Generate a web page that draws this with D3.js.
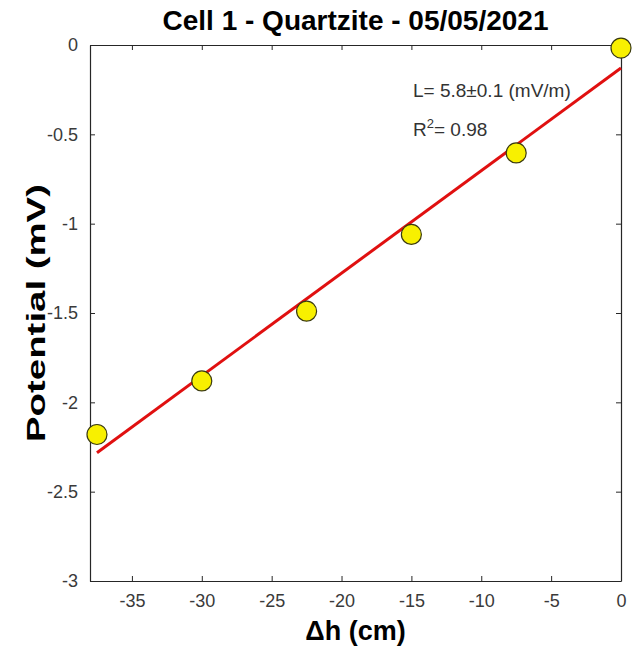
<!DOCTYPE html>
<html>
<head>
<meta charset="utf-8">
<script src="https://cdn.jsdelivr.net/npm/d3@7"></script>
<style>
  body { margin: 0; background: #fff; }
  svg { font-family: Arial, "Liberation Sans", Helvetica, sans-serif; }
  .tick text { font-size: 18px; fill: #3a3a3a; }
</style>
</head>
<body>
<svg width="640" height="647"></svg>
<script>
// Data
const dh = [-37.5, -30, -22.5, -15, -7.5, 0];          // cm
const potential = [-2.18, -1.88, -1.49, -1.06, -0.604, -0.017]; // mV
// fitted line end points
const fitX = [-37.5, 0];
const fitY = [-2.282, -0.129];
const xTicks = [-35, -30, -25, -20, -15, -10, -5, 0];
const yTicks = [0, -0.5, -1, -1.5, -2, -2.5, -3];

const svg = d3.select("svg");
const margin = { top: 45, right: 19, bottom: 66, left: 90 };
const width = 640 - margin.left - margin.right;
const height = 647 - margin.top - margin.bottom;

const g = svg.append("g")
    .attr("transform", `translate(${margin.left},${margin.top})`);

const x = d3.scaleLinear().domain([-38, 0]).range([0, width]);
const y = d3.scaleLinear().domain([-3, 0]).range([height, 0]);

// Axes (ticks inside, on all four sides like matlab box)
g.append("g")
    .attr("transform", `translate(0,${height})`)
    .call(d3.axisBottom(x).tickValues(xTicks).tickSizeInner(-5).tickSizeOuter(0).tickPadding(13).tickFormat(d => d));
g.append("g")
    .call(d3.axisLeft(y).tickValues(yTicks).tickSizeInner(-5).tickSizeOuter(0).tickPadding(12).tickFormat(d => d));
g.append("g")
    .call(d3.axisTop(x).tickValues(xTicks).tickSizeInner(-5).tickSizeOuter(0).tickFormat(""));
g.append("g")
    .attr("transform", `translate(${width},0)`)
    .call(d3.axisRight(y).tickValues(yTicks).tickSizeInner(-5).tickSizeOuter(0).tickFormat(""));

g.selectAll(".domain").attr("stroke", "#262626").attr("stroke-width", 1.2);
g.selectAll(".tick line").attr("stroke", "#262626");

// Fit line
const line = d3.line().x(d => x(d[0])).y(d => y(d[1]));
g.append("path")
    .datum(d3.zip(fitX, fitY))
    .attr("d", line)
    .attr("fill", "none")
    .attr("stroke", "#e01010")
    .attr("stroke-width", 3);

// Points
g.selectAll("circle")
    .data(d3.zip(dh, potential))
    .enter()
    .append("circle")
    .attr("cx", d => x(d[0]))
    .attr("cy", d => y(d[1]))
    .attr("r", 10)
    .attr("fill", "#f8f000")
    .attr("stroke", "#3a3a10")
    .attr("stroke-width", 1.2);

// Annotations
g.append("text")
    .attr("x", 323).attr("y", 52)
    .attr("font-size", 19).attr("fill", "#333")
    .text("L= 5.8\u00B10.1 (mV/m)");
const r2 = g.append("text")
    .attr("x", 323).attr("y", 91)
    .attr("font-size", 19).attr("fill", "#333");
r2.append("tspan").text("R");
r2.append("tspan").attr("dy", -8).attr("font-size", 13).text("2");
r2.append("tspan").attr("dy", 8).text("= 0.98");

// Title and labels
svg.append("text")
    .attr("x", margin.left + width / 2).attr("y", 30)
    .attr("text-anchor", "middle")
    .attr("font-size", 28).attr("font-weight", "bold")
    .text("Cell 1 - Quartzite - 05/05/2021");

svg.append("text")
    .attr("x", margin.left + width / 2).attr("y", 640)
    .attr("text-anchor", "middle")
    .attr("font-size", 27).attr("font-weight", "bold")
    .text("\u0394h (cm)");

svg.append("text")
    .attr("transform", `translate(45,${margin.top + height / 2}) rotate(-90)`)
    .attr("text-anchor", "middle")
    .attr("font-size", 25).attr("font-weight", "bold")
    .attr("textLength", 258).attr("lengthAdjust", "spacingAndGlyphs")
    .text("Potential (mV)");
</script>
</body>
</html>
